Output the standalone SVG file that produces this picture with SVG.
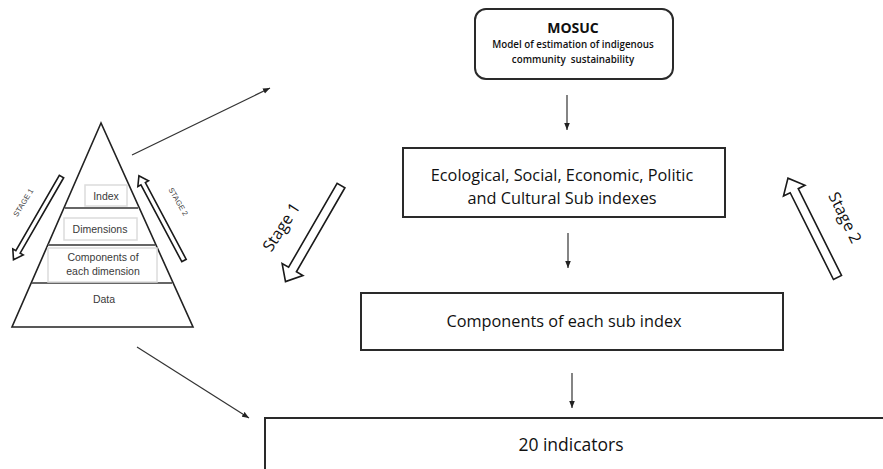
<svg xmlns="http://www.w3.org/2000/svg" width="883" height="469" viewBox="0 0 883 469">
  <style>
    .box { fill: #fff; stroke: #2a2a2a; stroke-width: 2; }
    .main { font-family: "Open Sans", "Noto Sans", sans-serif; fill: #111; text-anchor: middle; }
    .pyr { font-family: "Liberation Sans", Arial, sans-serif; font-size: 10.5px; fill: #3a3a3a; text-anchor: middle; }
    .small { font-family: "Liberation Sans", Arial, sans-serif; font-size: 7.5px; fill: #444; text-anchor: middle; }
    .conn { stroke: #333; stroke-width: 1.2; fill: none; marker-end: url(#ah); }
    .hollow { fill: #fff; stroke: #1a1a1a; stroke-width: 1.6; stroke-linejoin: miter; }
    .layer { stroke: #666; stroke-width: 2; }
    .inner { fill: #fff; stroke: #dcdcdc; stroke-width: 1.5; }
  </style>
  <defs>
    <marker id="ah" viewBox="0 0 10 10" refX="10" refY="5" markerWidth="7" markerHeight="7" markerUnits="userSpaceOnUse" orient="auto">
      <path d="M0,1 L10,5 L0,9 z" fill="#222"/>
    </marker>
    <polygon id="bigArrow" points="0,-4.5 97,-4.5 97,-12 111,0 97,12 97,4.5 0,4.5"/>
    <polygon id="smallArrow" points="0,-2.5 87,-2.5 87,-6 96,0 87,6 87,2.5 0,2.5"/>
  </defs>

  <rect width="883" height="469" fill="#fff"/>

  <!-- pyramid of index levels -->
  <g id="pyramid">
    <polygon points="101,123 12,327 193,327" fill="#fff" stroke="#222" stroke-width="1.6"/>
    <line class="layer" x1="65" y1="208" x2="138" y2="208"/>
    <line class="layer" x1="48" y1="245" x2="155" y2="245"/>
    <line class="layer" x1="32" y1="283" x2="172" y2="283"/>
    <rect class="inner" x="85" y="185" width="42" height="21"/>
    <rect class="inner" x="64" y="218" width="73" height="22"/>
    <rect class="inner" x="48" y="248" width="109" height="34"/>
    <text class="pyr" x="106" y="200">Index</text>
    <text class="pyr" x="100" y="233">Dimensions</text>
    <text class="pyr" x="103" y="261">Components of</text>
    <text class="pyr" x="103" y="275">each dimension</text>
    <text class="pyr" x="104" y="303">Data</text>
  </g>

  <g id="pyramid-stage1">
    <use href="#smallArrow" class="hollow" transform="translate(61.5,176.5) rotate(120)"/>
    <text class="small" transform="translate(25.5,204) rotate(-58)">STAGE 1</text>
  </g>
  <g id="pyramid-stage2">
    <use href="#smallArrow" class="hollow" transform="translate(184,260.5) rotate(-118)"/>
    <text class="small" transform="translate(176,203) rotate(60)">STAGE 2</text>
  </g>

  <!-- model title -->
  <g id="mosuc">
    <rect class="box" x="475" y="9" width="198" height="70" rx="11" ry="11"/>
    <text class="main" x="573" y="33" font-size="14" font-weight="bold">MOSUC</text>
    <text class="main" x="573" y="48" font-size="9.8" font-weight="600" fill="#222">Model of estimation of indigenous</text>
    <text class="main" x="573" y="63" font-size="9.8" font-weight="600" fill="#222" xml:space="preserve">community  sustainability</text>
  </g>

  <g id="subindexes">
    <rect class="box" x="403" y="148" width="322" height="69"/>
    <text class="main" x="562" y="181" font-size="16.3">Ecological, Social, Economic, Politic</text>
    <text class="main" x="562" y="204" font-size="16.3">and Cultural Sub indexes</text>
  </g>

  <g id="components">
    <rect class="box" x="361" y="293" width="422" height="57"/>
    <text class="main" x="564" y="327" font-size="16.3">Components of each sub index</text>
  </g>

  <g id="indicators">
    <rect class="box" x="265" y="418" width="640" height="80" stroke="#555"/>
    <text class="main" x="571" y="451" font-size="17.5">20 indicators</text>
  </g>

  <g id="stage1">
    <use href="#bigArrow" class="hollow" transform="translate(341,185.5) rotate(120)"/>
    <text class="main" font-size="16" transform="translate(286,230) rotate(-57)">Stage 1</text>
  </g>
  <g id="stage2">
    <use href="#bigArrow" class="hollow" transform="translate(837.5,277.5) rotate(-116.5)"/>
    <text class="main" font-size="16" transform="translate(840,220) rotate(64)">Stage 2</text>
  </g>

  <!-- connectors -->
  <g id="connectors">
    <line class="conn" x1="567" y1="95" x2="567" y2="130"/>
    <line class="conn" x1="568" y1="233" x2="568" y2="268"/>
    <line class="conn" x1="572" y1="373" x2="572" y2="408"/>
    <line class="conn" x1="132" y1="155" x2="270" y2="88"/>
    <line class="conn" x1="137" y1="347" x2="249" y2="418"/>
  </g>
</svg>
